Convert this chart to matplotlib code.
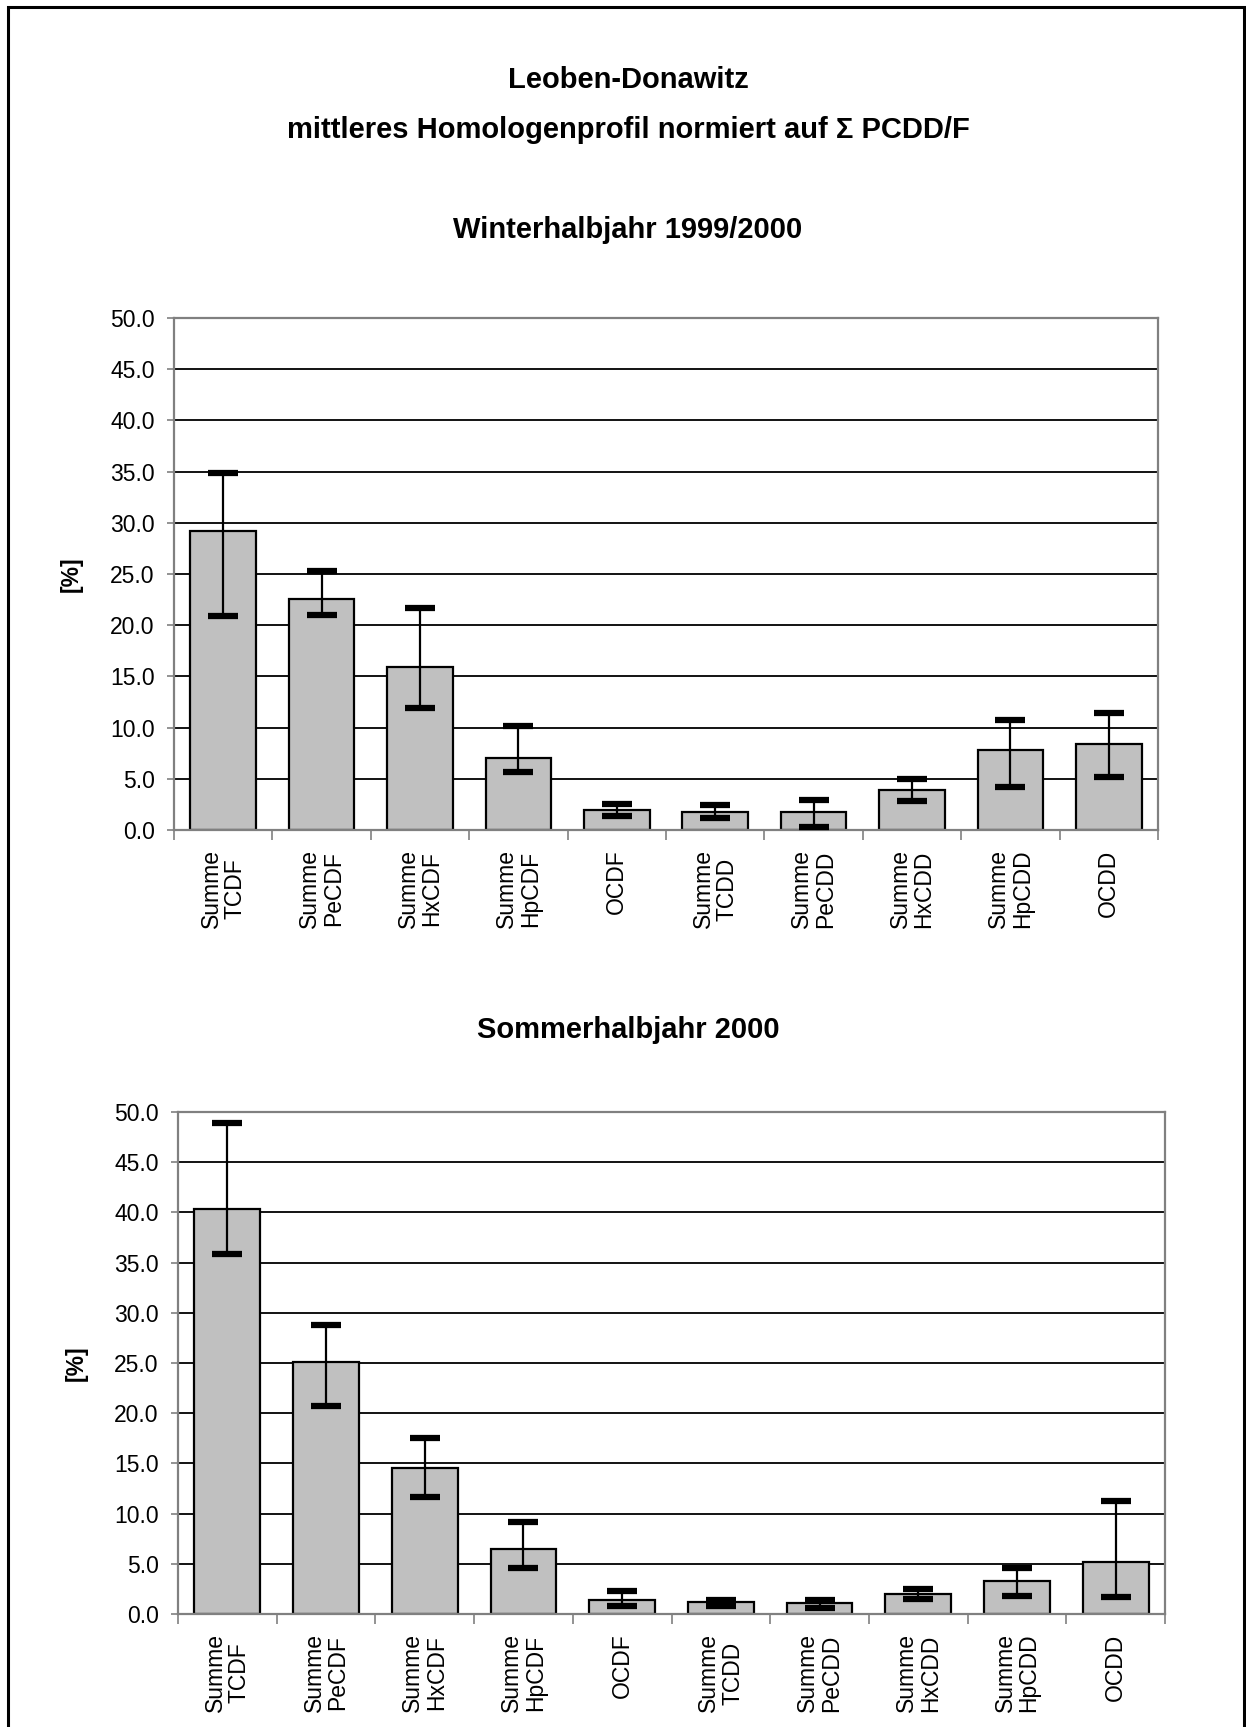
import matplotlib
matplotlib.use("Agg")
import matplotlib.pyplot as plt
from matplotlib.patches import Rectangle
import numpy as np

plt.rcParams['font.family'] = ['Liberation Sans', 'DejaVu Sans']

categories = ["Summe\nTCDF", "Summe\nPeCDF", "Summe\nHxCDF", "Summe\nHpCDF", "OCDF",
              "Summe\nTCDD", "Summe\nPeCDD", "Summe\nHxCDD", "Summe\nHpCDD", "OCDD"]

winter_mean = [29.2, 22.6, 15.9, 7.05, 1.97, 1.73, 1.8, 3.92, 7.8, 8.37]
winter_high = [34.9, 25.3, 21.7, 10.2, 2.55, 2.45, 2.97, 5.0, 10.7, 11.47]
winter_low = [20.9, 21.0, 11.95, 5.67, 1.4, 1.2, 0.3, 2.84, 4.18, 5.13]

summer_mean = [40.3, 25.1, 14.5, 6.5, 1.38, 1.16, 1.1, 2.0, 3.29, 5.18]
summer_high = [48.9, 28.8, 17.5, 9.15, 2.25, 1.43, 1.4, 2.5, 4.6, 11.26]
summer_low = [35.9, 20.7, 11.7, 4.57, 0.75, 0.83, 0.6, 1.46, 1.8, 1.73]

yticks = [0, 5, 10, 15, 20, 25, 30, 35, 40, 45, 50]

W, H = 1246, 1727
fig = plt.figure(figsize=(W / 100, H / 100), dpi=100)

# outer frame
fig.patches.append(Rectangle((8 / W, -0.02), (1244 - 8) / W, 1.02 - 7 / H,
                             transform=fig.transFigure, fill=False,
                             edgecolor='black', linewidth=2.2))

TFS = 21
fig.text(0.504, 1 - 80 / H, "Leoben-Donawitz", ha='center', va='center',
         fontsize=TFS, fontweight='bold')
fig.text(0.504, 1 - 130 / H, "mittleres Homologenprofil normiert auf \u03a3 PCDD/F",
         ha='center', va='center', fontsize=TFS, fontweight='bold')
fig.text(0.504, 1 - 230 / H, "Winterhalbjahr 1999/2000", ha='center', va='center',
         fontsize=TFS, fontweight='bold')
fig.text(0.504, 1 - 1030 / H, "Sommerhalbjahr 2000", ha='center', va='center',
         fontsize=TFS, fontweight='bold')


def draw(ax, mean, high, low, ylab_x):
    x = np.arange(len(categories))
    mean = np.array(mean)
    err = np.vstack([mean - np.array(low), np.array(high) - mean])
    for y in yticks[1:-1]:
        ax.axhline(y, color='black', linewidth=1.3, zorder=0)
    ax.bar(x, mean, width=0.667, color='#c0c0c0', edgecolor='black',
           linewidth=1.6, zorder=2)
    ax.errorbar(x, mean, yerr=err, fmt='none', ecolor='black', elinewidth=1.6,
                capsize=10.5, capthick=4.5, zorder=3)
    ax.set_xlim(-0.5, len(categories) - 0.5)
    ax.set_ylim(0, 50)
    ax.set_yticks(yticks)
    ax.set_yticklabels([f"{v:.1f}" for v in yticks], fontsize=16.5)
    ax.set_xticks(np.arange(len(categories) + 1) - 0.5)
    ax.set_xticklabels([])
    ax.set_xticks(x, minor=True)
    ax.set_xticklabels(categories, minor=True, rotation=90, fontsize=16.5,
                       ha='center', va='top', multialignment='center',
                       linespacing=1.05)
    ax.tick_params(axis='x', which='minor', length=0, pad=14)
    ax.tick_params(axis='x', which='major', length=7, width=1.2, color='#808080')
    ax.tick_params(axis='y', length=5, width=1.2, color='#808080', pad=9)
    for s in ax.spines.values():
        s.set_color('#808080')
        s.set_linewidth(1.6)
    ax.set_ylabel("[%]", fontsize=16.5, fontweight='bold')
    ax.yaxis.set_label_coords(ylab_x, 0.5)
    ax.set_facecolor('white')


ax1 = fig.add_axes([174 / W, 1 - 830 / H, (1158 - 174) / W, 512 / H])
draw(ax1, winter_mean, winter_high, winter_low, (83 - 174) / 984)
ax2 = fig.add_axes([178 / W, 1 - 1614 / H, (1165 - 178) / W, 502 / H])
draw(ax2, summer_mean, summer_high, summer_low, (88 - 178) / 987)

fig.savefig("out.png", dpi=100, facecolor='white')
